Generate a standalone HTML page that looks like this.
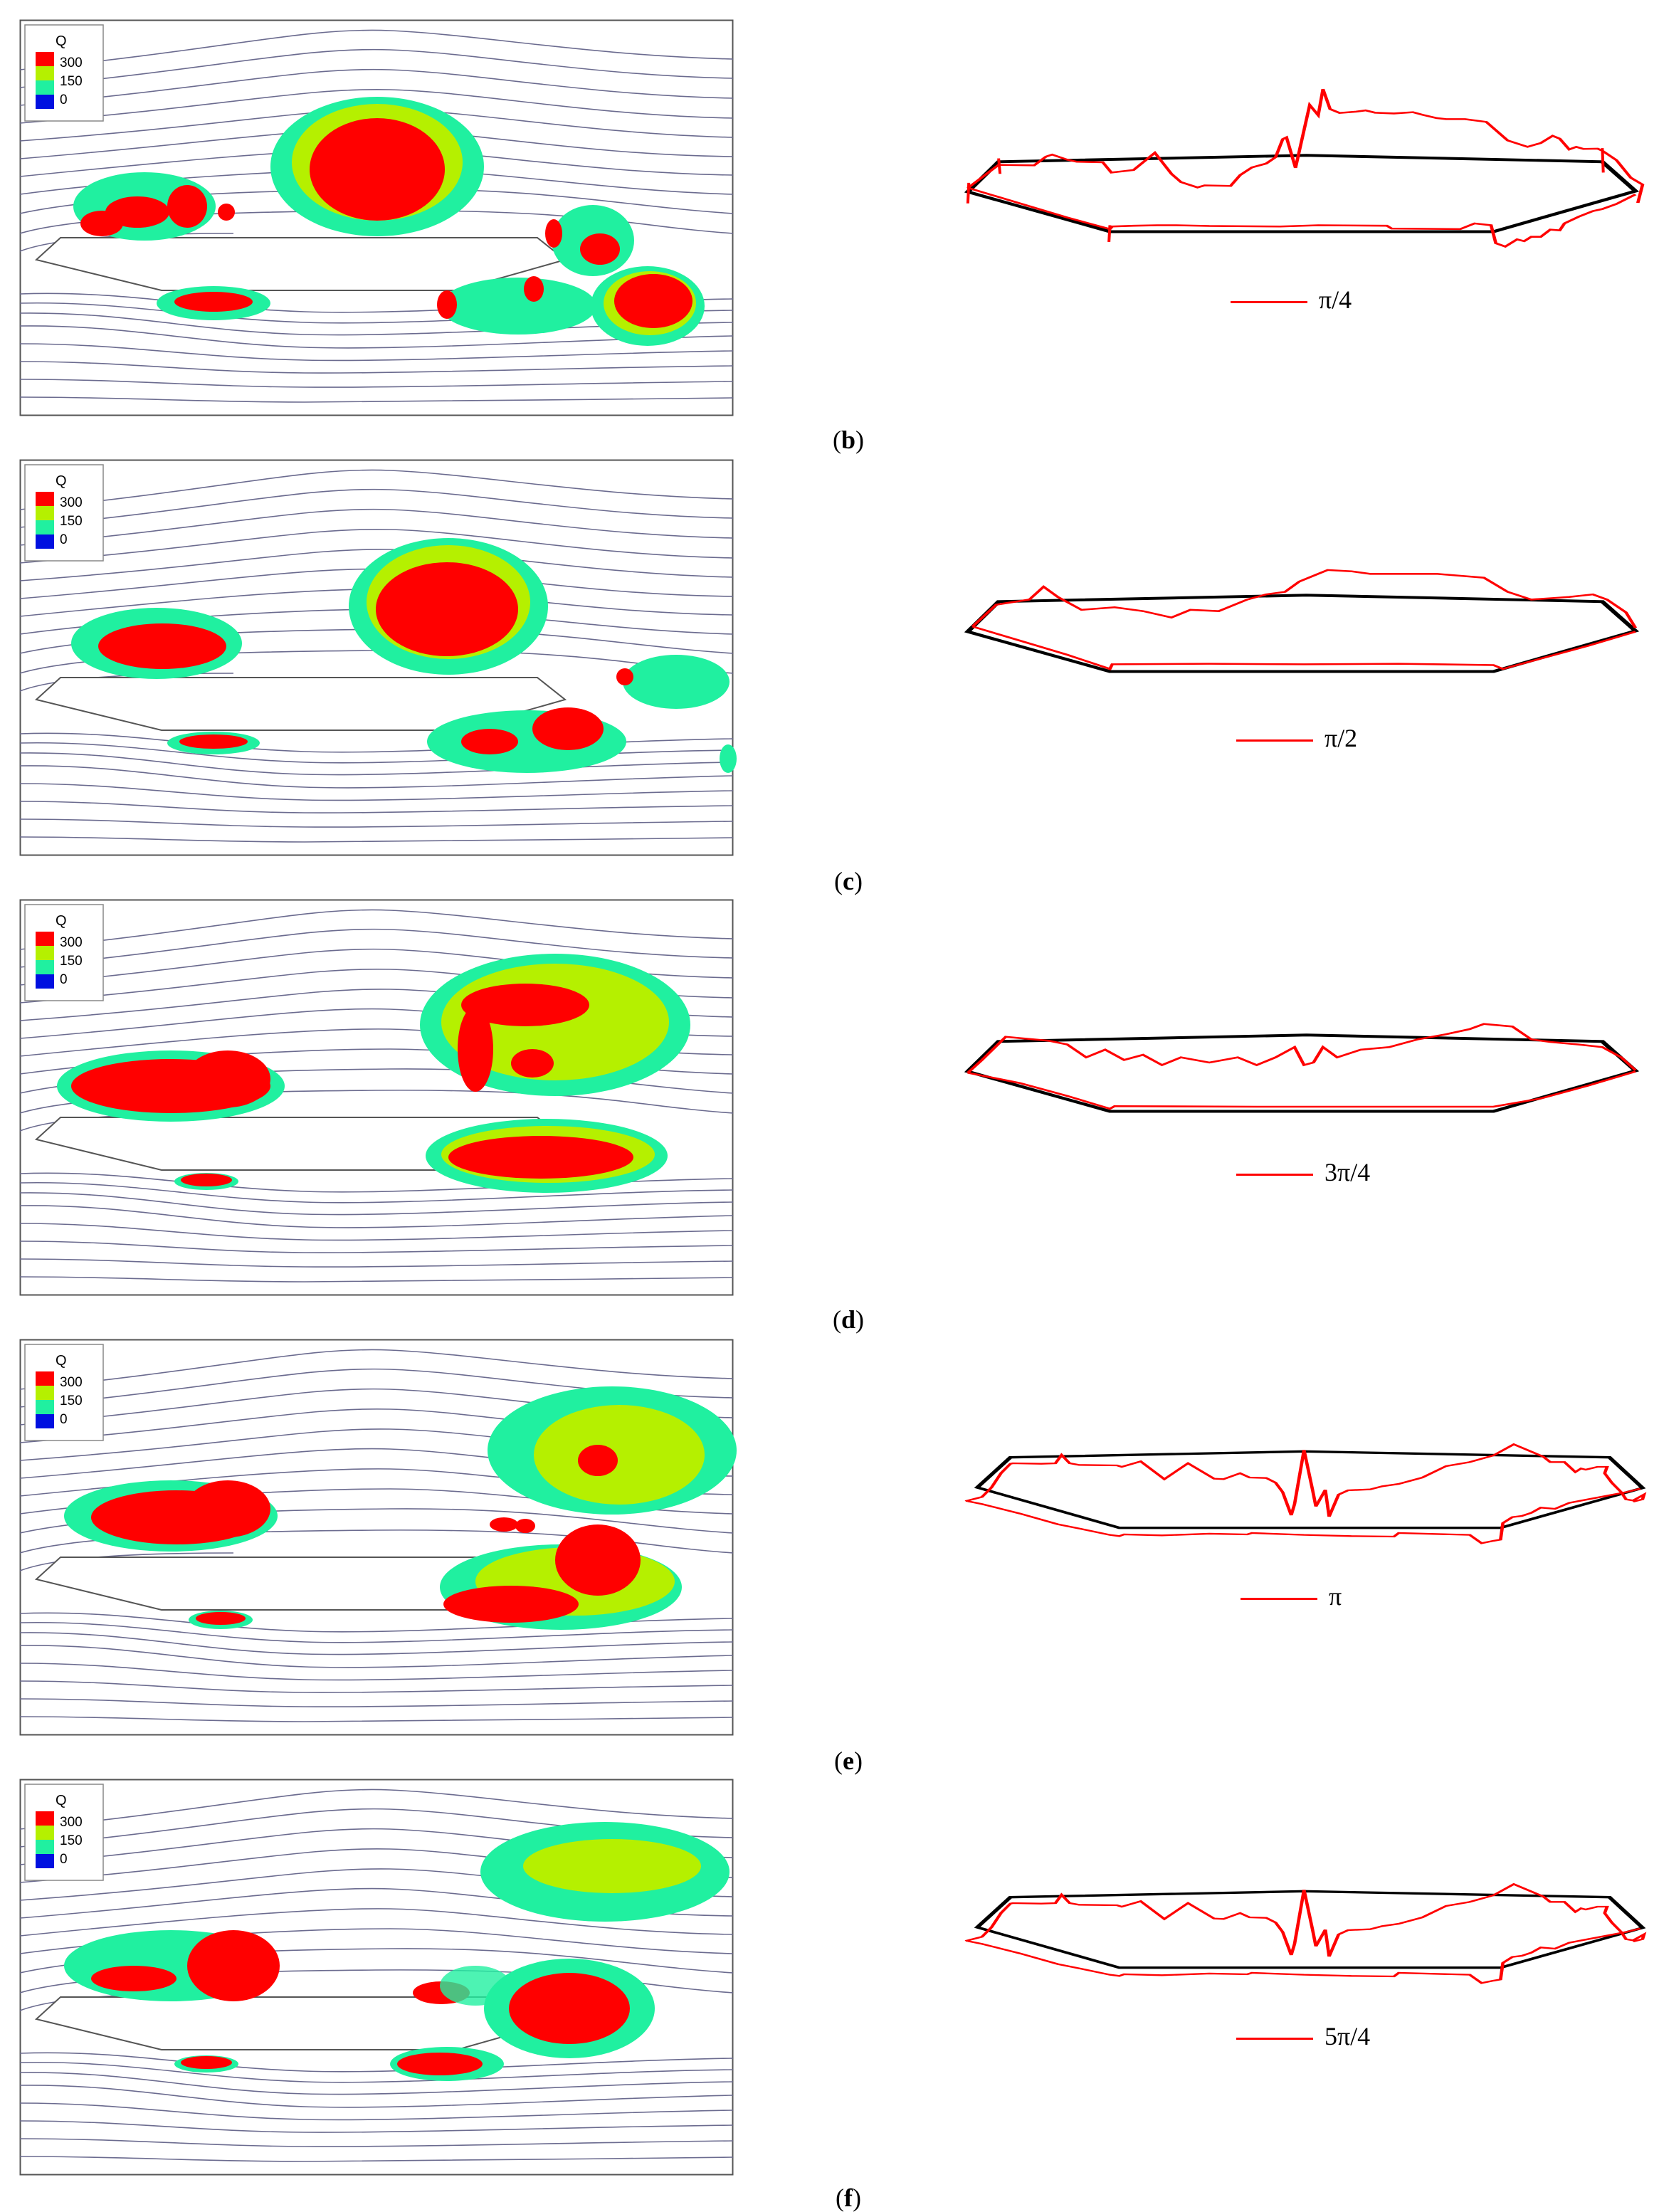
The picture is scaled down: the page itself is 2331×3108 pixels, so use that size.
<!DOCTYPE html>
<html><head><meta charset="utf-8"><style>
html,body{margin:0;padding:0;background:#fff}
body{width:2331px;height:3102px;position:relative;overflow:hidden;font-family:"Liberation Serif",serif}
.lbl{position:absolute;left:1150px;width:84px;text-align:center;font-size:36px;color:#000;line-height:40px}
.lg{position:absolute;font-size:36px;font-family:"Liberation Serif",serif}
.lg span{display:inline-block;width:108px;height:3px;background:#f00;vertical-align:middle;margin-right:16px}
</style></head><body>
<svg width="2331" height="3102" style="position:absolute;left:0;top:0" xmlns="http://www.w3.org/2000/svg">
<defs>
<g id="base">
<rect x="0.5" y="0.5" width="1001" height="555" fill="#fff" stroke="#555" stroke-width="2"/>
<g fill="none" stroke="#6b6b8f" stroke-width="1.6">
<path d="M0,70 C300,40 400,10 520,15 S800,50 1002,55"/>
<path d="M0,95 C300,65 400,38 520,42 S800,78 1002,82"/>
<path d="M0,120 C300,92 400,66 520,70 S800,106 1002,110"/>
<path d="M0,145 C300,120 400,95 520,98 S800,134 1002,138"/>
<path d="M0,170 C300,148 400,124 520,126 S800,160 1002,165"/>
<path d="M0,195 C250,175 400,150 520,154 S800,190 1002,192"/>
<path d="M0,220 C200,200 400,180 520,182 S800,215 1002,218"/>
<path d="M0,245 C150,225 380,210 520,210 S820,240 1002,245"/>
<path d="M0,272 C100,250 300,240 520,238 S850,262 1002,272"/>
<path d="M0,300 C60,282 200,270 500,268 S860,290 1002,300"/>
<path d="M0,325 C40,310 120,300 300,300"/>
<path d="M0,385 C150,380 250,405 400,410 S800,395 1002,392"/>
<path d="M0,398 C150,395 250,420 400,425 S800,410 1002,408"/>
<path d="M0,412 C150,410 250,438 400,442 S800,428 1002,425"/>
<path d="M0,430 C150,428 250,455 400,460 S800,448 1002,444"/>
<path d="M0,455 C150,455 250,475 400,478 S800,468 1002,465"/>
<path d="M0,480 C150,480 250,495 400,496 S800,488 1002,486"/>
<path d="M0,505 C150,505 250,515 400,516 S800,510 1002,508"/>
<path d="M0,530 C150,530 250,537 400,537 S800,533 1002,531"/>
</g>
<polygon points="23,337 57,306 727,306 766,337 614,380 199,380" fill="#fff" stroke="#555" stroke-width="2"/>
<rect x="7" y="7" width="110" height="135" fill="#fff" stroke="#888" stroke-width="1.5"/>
<text x="50" y="36" font-family="Liberation Sans" font-size="20">Q</text>
<rect x="22" y="45" width="26" height="20" fill="#f00"/>
<rect x="22" y="65" width="26" height="20" fill="#b5f000"/>
<rect x="22" y="85" width="26" height="20" fill="#20f0a0"/>
<rect x="22" y="105" width="26" height="20" fill="#0010e0"/>
<text x="56" y="66" font-family="Liberation Sans" font-size="19">300</text>
<text x="56" y="92" font-family="Liberation Sans" font-size="19">150</text>
<text x="56" y="118" font-family="Liberation Sans" font-size="19">0</text>
</g>
<polygon id="poly" points="90,525 155,408 805,383 1430,408 1500,522 1200,680 390,680" fill="none" stroke="#000" stroke-width="11"/>
<polygon id="polyd" points="110,420 180,293 800,268 1445,293 1515,422 1215,590 410,590" fill="none" stroke="#000" stroke-width="10"/>
<polyline id="redd" fill="none" stroke="#f00" stroke-width="7" points="85,478 100,470 120,460 140,420 160,360 180,320 185,318 245,320 275,318 288,283 305,318 325,325 405,327 415,333 455,310 505,385 555,318 610,383 630,385 665,360 685,378 720,380 740,400 755,440 773,537 780,490 800,262 818,430 825,500 845,430 853,543 873,450 893,432 940,428 965,415 1000,405 1050,378 1100,330 1150,313 1200,285 1243,238 1305,290 1320,313 1350,313 1373,355 1385,340 1395,345 1420,333 1440,333 1435,360 1450,400 1470,440 1480,470 1495,475 1518,450 1515,470 1495,480"/>
<polyline id="reddb" fill="none" stroke="#f00" stroke-width="7" points="90,478 120,490 160,510 200,530 280,575 330,595 390,620 410,625 420,618 500,622 600,615 680,618 690,612 800,620 900,625 990,627 1000,612 1150,620 1175,655 1200,645 1215,640 1220,570 1240,545 1260,540 1280,527 1300,505 1330,510 1360,485 1400,470 1440,455 1480,440 1510,425"/>
</defs>

<!-- LEFT PANELS -->
<g transform="translate(28,28)">
<use href="#base"/>
<g>
<ellipse cx="502" cy="206" rx="150" ry="98" fill="#20f0a0"/><ellipse cx="502" cy="200" rx="120" ry="82" fill="#b5f000"/><ellipse cx="502" cy="210" rx="95" ry="72" fill="#f00"/>
<ellipse cx="175" cy="262" rx="100" ry="48" fill="#20f0a0"/><ellipse cx="165" cy="270" rx="45" ry="22" fill="#f00"/><ellipse cx="235" cy="262" rx="28" ry="30" fill="#f00"/>
<ellipse cx="115" cy="286" rx="30" ry="18" fill="#f00"/><ellipse cx="290" cy="270" rx="12" ry="12" fill="#f00"/>
<ellipse cx="272" cy="398" rx="80" ry="24" fill="#20f0a0"/><ellipse cx="272" cy="396" rx="55" ry="14" fill="#f00"/>
<ellipse cx="882" cy="402" rx="80" ry="56" fill="#20f0a0"/><ellipse cx="885" cy="398" rx="65" ry="45" fill="#b5f000"/><ellipse cx="890" cy="395" rx="55" ry="38" fill="#f00"/>
<ellipse cx="805" cy="310" rx="58" ry="50" fill="#20f0a0"/><ellipse cx="815" cy="322" rx="28" ry="22" fill="#f00"/><ellipse cx="750" cy="300" rx="12" ry="20" fill="#f00"/>
<ellipse cx="700" cy="402" rx="110" ry="40" fill="#20f0a0"/><ellipse cx="600" cy="400" rx="14" ry="20" fill="#f00"/><ellipse cx="722" cy="378" rx="14" ry="18" fill="#f00"/>
</g></g>

<g transform="translate(28,646)">
<use href="#base"/>
<ellipse cx="602" cy="206" rx="140" ry="96" fill="#20f0a0"/><ellipse cx="602" cy="200" rx="115" ry="80" fill="#b5f000"/><ellipse cx="600" cy="210" rx="100" ry="66" fill="#f00"/>
<ellipse cx="192" cy="258" rx="120" ry="50" fill="#20f0a0"/><ellipse cx="200" cy="262" rx="90" ry="32" fill="#f00"/>
<ellipse cx="272" cy="398" rx="65" ry="16" fill="#20f0a0"/><ellipse cx="272" cy="396" rx="48" ry="10" fill="#f00"/>
<ellipse cx="712" cy="396" rx="140" ry="44" fill="#20f0a0"/><ellipse cx="770" cy="378" rx="50" ry="30" fill="#f00"/><ellipse cx="660" cy="396" rx="40" ry="18" fill="#f00"/>
<ellipse cx="922" cy="312" rx="75" ry="38" fill="#20f0a0"/><ellipse cx="850" cy="305" rx="12" ry="12" fill="#f00"/>
<ellipse cx="995" cy="420" rx="12" ry="20" fill="#20f0a0"/>
</g>

<g transform="translate(28,1264)">
<use href="#base"/>
<ellipse cx="752" cy="176" rx="190" ry="100" fill="#20f0a0"/><ellipse cx="752" cy="172" rx="160" ry="82" fill="#b5f000"/>
<ellipse cx="710" cy="148" rx="90" ry="30" fill="#f00"/><ellipse cx="640" cy="210" rx="25" ry="60" fill="#f00"/><ellipse cx="720" cy="230" rx="30" ry="20" fill="#f00"/>
<ellipse cx="212" cy="262" rx="160" ry="50" fill="#20f0a0"/><ellipse cx="212" cy="262" rx="140" ry="38" fill="#f00"/><ellipse cx="292" cy="252" rx="60" ry="40" fill="#f00"/>
<ellipse cx="262" cy="396" rx="45" ry="12" fill="#20f0a0"/><ellipse cx="262" cy="394" rx="36" ry="9" fill="#f00"/>
<ellipse cx="740" cy="360" rx="170" ry="52" fill="#20f0a0"/><ellipse cx="742" cy="358" rx="150" ry="40" fill="#b5f000"/><ellipse cx="732" cy="362" rx="130" ry="30" fill="#f00"/>
</g>

<g transform="translate(28,1882)">
<use href="#base"/>
<ellipse cx="832" cy="156" rx="175" ry="90" fill="#20f0a0"/><ellipse cx="842" cy="162" rx="120" ry="70" fill="#b5f000"/><ellipse cx="812" cy="170" rx="28" ry="22" fill="#f00"/>
<ellipse cx="212" cy="248" rx="150" ry="50" fill="#20f0a0"/><ellipse cx="220" cy="250" rx="120" ry="38" fill="#f00"/><ellipse cx="292" cy="238" rx="60" ry="40" fill="#f00"/>
<ellipse cx="282" cy="394" rx="45" ry="13" fill="#20f0a0"/><ellipse cx="282" cy="392" rx="35" ry="9" fill="#f00"/>
<ellipse cx="760" cy="348" rx="170" ry="60" fill="#20f0a0"/><ellipse cx="780" cy="340" rx="140" ry="48" fill="#b5f000"/><ellipse cx="812" cy="310" rx="60" ry="50" fill="#f00"/><ellipse cx="690" cy="372" rx="95" ry="26" fill="#f00"/>
<ellipse cx="680" cy="260" rx="20" ry="10" fill="#f00"/><ellipse cx="710" cy="262" rx="14" ry="10" fill="#f00"/>
</g>

<g transform="translate(28,2500)">
<use href="#base"/>
<ellipse cx="822" cy="130" rx="175" ry="70" fill="#20f0a0"/><ellipse cx="832" cy="122" rx="125" ry="38" fill="#b5f000"/>
<ellipse cx="212" cy="262" rx="150" ry="50" fill="#20f0a0"/><ellipse cx="300" cy="262" rx="65" ry="50" fill="#f00"/><ellipse cx="160" cy="280" rx="60" ry="18" fill="#f00"/>
<ellipse cx="772" cy="322" rx="120" ry="70" fill="#20f0a0"/><ellipse cx="772" cy="322" rx="85" ry="50" fill="#f00"/>
<ellipse cx="600" cy="400" rx="80" ry="24" fill="#20f0a0"/><ellipse cx="590" cy="400" rx="60" ry="16" fill="#f00"/>
<ellipse cx="262" cy="400" rx="45" ry="12" fill="#20f0a0"/><ellipse cx="262" cy="398" rx="36" ry="9" fill="#f00"/>
<ellipse cx="592" cy="300" rx="40" ry="16" fill="#f00"/><ellipse cx="640" cy="290" rx="50" ry="28" fill="#20f0a0" opacity="0.8"/>
</g>

<!-- RIGHT PANELS -->
<g transform="translate(1300,80) scale(0.6653,0.361)">
<use href="#poly"/>
<polyline fill="none" stroke="#f00" stroke-width="7" points="90,510 155,420 230,422 255,388 268,380 300,400 320,408 375,410 393,450 440,440 485,373 520,455 540,487 575,508 590,500 645,502 665,460 690,430 720,415 740,390 755,320 763,313 782,432 812,187 830,227 840,125 855,203 875,218 910,213 930,208 950,217 990,220 1030,215 1050,225 1080,238 1100,242 1140,242 1185,253 1230,325 1272,350 1300,335 1325,307 1340,318 1360,360 1375,350 1390,358 1420,357 1430,365 1460,402 1490,470 1515,497 1505,568"/>
<polyline fill="none" stroke="#f00" stroke-width="7" points="90,510 95,512 200,570 300,625 390,670 395,660 440,657 490,655 530,655 600,658 750,660 830,655 975,657 985,668 1130,670 1160,648 1195,655 1205,725 1225,738 1250,710 1265,717 1280,700 1300,700 1320,672 1340,675 1350,648 1380,622 1410,600 1430,592 1460,572 1500,535"/>
<path d="M155,395 L158,455 M390,655 L388,720 M1430,355 L1432,450 M92,490 L90,570" stroke="#f00" stroke-width="6"/>
</g>
<g transform="translate(1300,698) scale(0.6653,0.361)">
<use href="#poly"/>
<polyline fill="none" stroke="#f00" stroke-width="7" points="100,505 150,420 220,400 250,350 280,390 330,440 400,430 460,445 520,470 560,440 620,445 680,400 720,380 760,370 790,330 830,300 850,285 900,290 940,300 1000,300 1080,300 1180,315 1230,370 1280,400 1320,395 1360,390 1410,380 1440,400 1480,450 1500,510"/>
<polyline fill="none" stroke="#f00" stroke-width="7" points="100,505 200,560 300,615 390,670 395,652 600,650 800,652 1000,650 1200,655 1220,670 1300,630 1400,580 1500,525"/>
</g>
<g transform="translate(1300,1316) scale(0.6653,0.361)">
<use href="#poly"/>
<polyline fill="none" stroke="#f00" stroke-width="7" points="90,530 120,480 170,390 200,395 260,405 300,420 340,470 380,440 420,480 460,460 500,500 540,470 600,490 660,470 700,500 740,470 780,430 800,500 820,490 840,430 870,470 920,440 980,430 1040,400 1100,380 1150,360 1180,340 1240,350 1280,400 1320,410 1380,420 1430,430 1470,470 1500,520"/>
<polyline fill="none" stroke="#f00" stroke-width="7" points="90,530 200,570 300,620 390,670 400,660 700,662 1000,662 1200,662 1300,630 1400,580 1500,525"/>
</g>
<g transform="translate(1300,1950) scale(0.6653,0.3333)">
<use href="#polyd"/><use href="#redd"/><use href="#reddb"/>
</g>
<g transform="translate(1300,2568) scale(0.6653,0.3333)">
<use href="#polyd"/><use href="#redd"/><use href="#reddb"/>
</g>
</svg>

<div class="lg" style="left:1729px;top:400px"><span></span>π/4</div>
<div class="lg" style="left:1737px;top:1016px"><span></span>π/2</div>
<div class="lg" style="left:1737px;top:1626px"><span></span>3π/4</div>
<div class="lg" style="left:1743px;top:2222px"><span></span>π</div>
<div class="lg" style="left:1737px;top:2840px"><span></span>5π/4</div>

<div class="lbl" style="top:598px">(<b>b</b>)</div>
<div class="lbl" style="top:1218px">(<b>c</b>)</div>
<div class="lbl" style="top:1834px">(<b>d</b>)</div>
<div class="lbl" style="top:2454px">(<b>e</b>)</div>
<div class="lbl" style="top:3068px">(<b>f</b>)</div>
</body></html>
